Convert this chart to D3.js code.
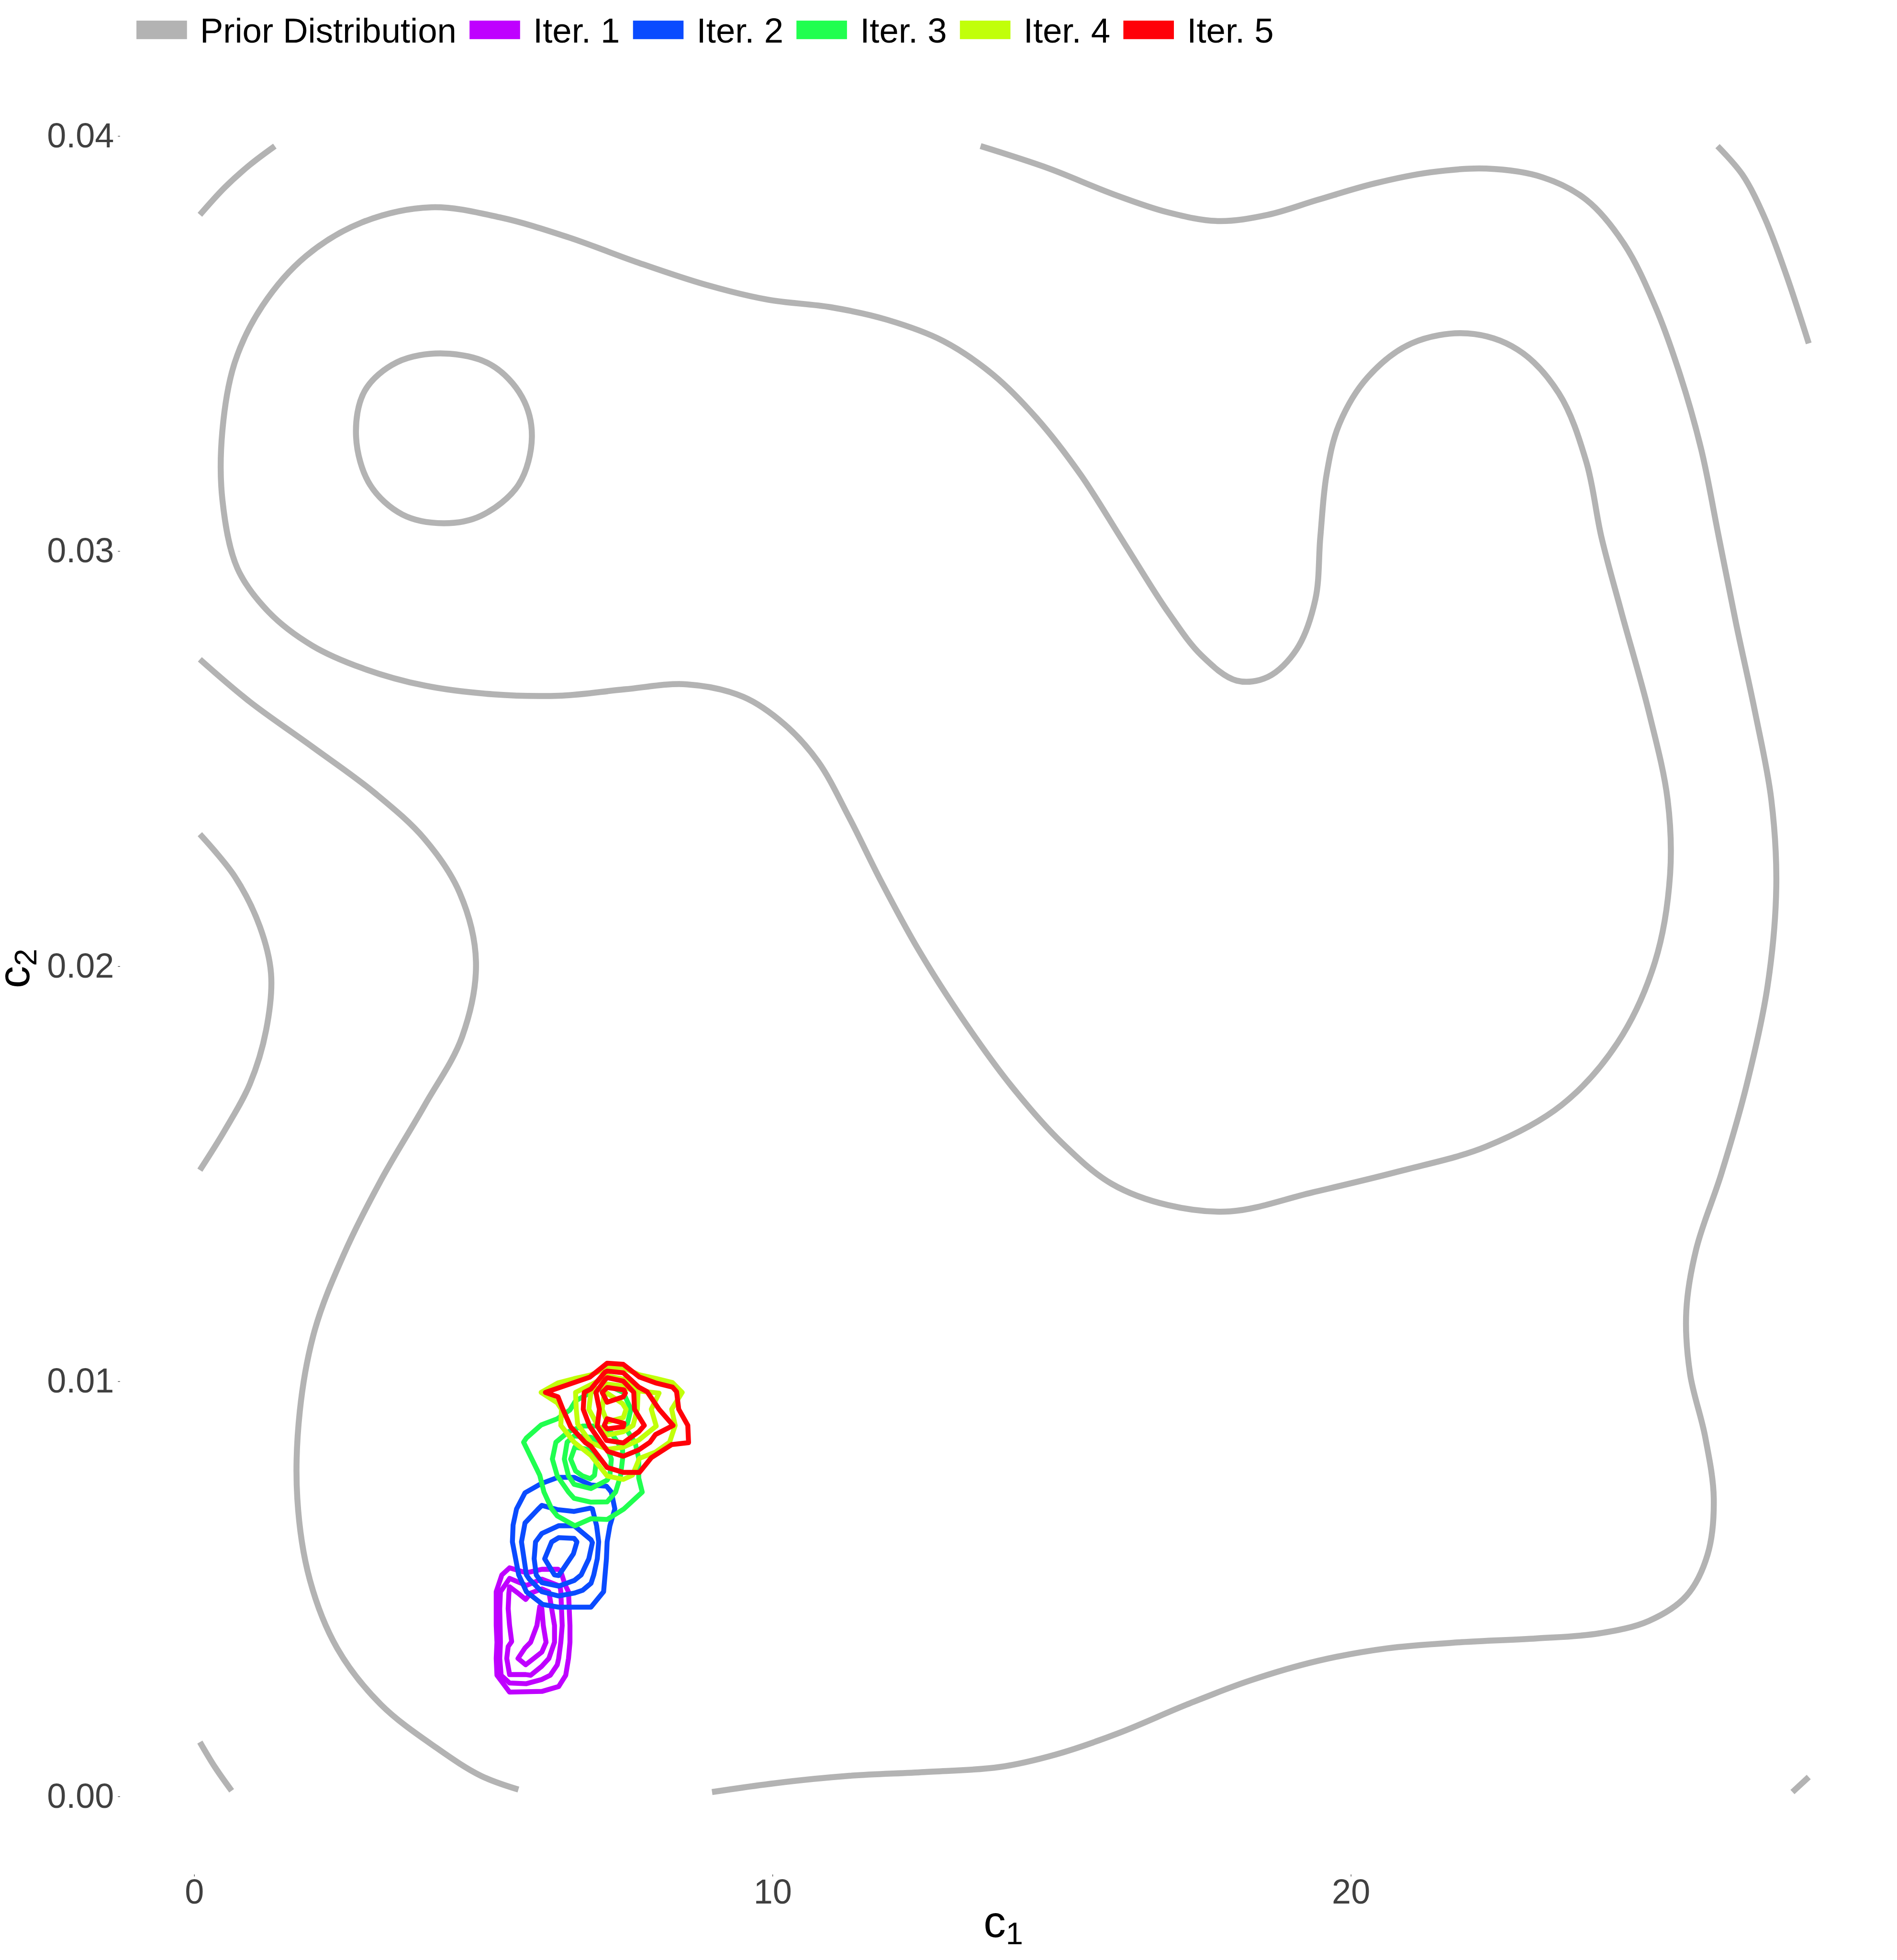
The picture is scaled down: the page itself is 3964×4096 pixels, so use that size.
<!DOCTYPE html>
<html><head><meta charset="utf-8">
<script src="https://cdn.jsdelivr.net/npm/d3@7"></script>
<style>html,body{margin:0;padding:0;background:#fff;} svg{display:block;}</style>
</head><body>
<script>
// ---------- DATA ----------
const xTickValues = [0, 10, 20];
const xTickLabels = ["0", "10", "20"];
const yTickValues = [0, 0.01, 0.02, 0.03, 0.04];
const yTickLabels = ["0.00", "0.01", "0.02", "0.03", "0.04"];
const seriesNames = ["Prior Distribution", "Iter. 1", "Iter. 2", "Iter. 3", "Iter. 4", "Iter. 5"];

// Prior distribution contours [c1, c2]
const priorCircle = [[4.31,0.03476],[5.13,0.03449],[5.67,0.03371],[5.84,0.03275],[5.61,0.03160],[4.96,0.03085],[4.31,0.03067],[3.60,0.03088],[3.04,0.03160],[2.80,0.03275],[2.95,0.03386],[3.51,0.03455]];
const priorBlob = [[4.095,0.038281],[5.283,0.038040],[6.471,0.037559],[7.659,0.036957],[8.847,0.036415],[9.927,0.036054],[11.006,0.035874],[11.978,0.035573],[12.950,0.035062],[13.814,0.034249],[14.570,0.033197],[15.326,0.031843],[16.082,0.030188],[16.838,0.028534],[17.421,0.027481],[18.026,0.026879],[18.566,0.026969],[19.063,0.027631],[19.387,0.028835],[19.473,0.030339],[19.581,0.031843],[19.797,0.033046],[20.294,0.034189],[21.050,0.035002],[22.022,0.035242],[22.886,0.034851],[23.598,0.033798],[24.073,0.032144],[24.333,0.030339],[24.678,0.028534],[25.153,0.026127],[25.477,0.024021],[25.521,0.022216],[25.261,0.020110],[24.613,0.018155],[23.642,0.016651],[22.346,0.015658],[20.834,0.015057],[19.322,0.014545],[17.918,0.014094],[16.838,0.014244],[15.866,0.014756],[15.002,0.015748],[14.138,0.017102],[13.274,0.018757],[12.518,0.020411],[11.870,0.022066],[11.330,0.023570],[10.791,0.024924],[10.207,0.025826],[9.495,0.026488],[8.523,0.026789],[7.443,0.026669],[6.363,0.026518],[5.175,0.026548],[3.987,0.026759],[2.907,0.027180],[2.043,0.027721],[1.287,0.028534],[0.747,0.029587],[0.488,0.031241],[0.488,0.032896],[0.704,0.034550],[1.179,0.035904],[1.935,0.037107],[2.907,0.037920]];
const priorOuterA = [[8.955,0.000105],[10.035,0.000316],[11.330,0.000496],[12.626,0.000587],[13.922,0.000707],[14.894,0.001008],[15.974,0.001519],[17.162,0.002211],[18.242,0.002783],[19.430,0.003264],[20.618,0.003565],[21.914,0.003715],[23.210,0.003805],[24.289,0.003926],[25.153,0.004227],[25.801,0.004828],[26.168,0.005821],[26.276,0.007175],[26.125,0.008679],[25.866,0.010183],[25.801,0.011687],[25.974,0.013191],[26.406,0.014996],[26.838,0.017102],[27.205,0.019509],[27.357,0.021915],[27.270,0.024021],[26.989,0.026127],[26.665,0.028233],[26.363,0.030339],[26.060,0.032444],[25.693,0.034249],[25.261,0.035904],[24.721,0.037408],[24.073,0.038461],[23.317,0.039003],[22.346,0.039213],[21.374,0.039123],[20.402,0.038852],[19.430,0.038461],[18.566,0.038100],[17.702,0.037950],[16.838,0.038160],[15.866,0.038611],[14.786,0.039213],[13.598,0.039755]];
const priorOuterB = [[0.099,0.027391],[0.963,0.026368],[2.043,0.025285],[3.123,0.024172],[3.987,0.023059],[4.592,0.021765],[4.873,0.020110],[4.635,0.018306],[3.987,0.016651],[3.231,0.014846],[2.583,0.013041],[2.086,0.011236],[1.827,0.009281],[1.784,0.007175],[2.000,0.005219],[2.475,0.003565],[3.231,0.002211],[4.203,0.001158],[4.959,0.000496],[5.607,0.000165]];
const priorArcTopLeft = [[0.099,0.038100],[0.531,0.038762],[0.963,0.039303],[1.395,0.039755]];
const priorArcLeft = [[0.099,0.023179],[0.704,0.022156],[1.136,0.020953],[1.330,0.019810],[1.244,0.018456],[0.963,0.017162],[0.531,0.016049],[0.099,0.015087]];
const priorArcBottomLeft = [[0.099,0.001309],[0.359,0.000707],[0.648,0.000135]];
const priorArcTopRight = [[26.341,0.039755],[26.773,0.039063],[27.162,0.038010],[27.529,0.036656],[27.918,0.035002]];
const priorArcBottomRight = [[27.637,0.000105],[27.918,0.000466]];

// Iteration contours [c1, c2]
const iter1 = [
  [[5.454,0.005505],[5.745,0.005386],[6.012,0.005471],[6.291,0.005471],[6.340,0.005420],[6.413,0.005099],[6.473,0.004930],[6.498,0.004118],[6.498,0.003713],[6.473,0.003324],[6.425,0.002918],[6.303,0.002647],[6.012,0.002529],[5.454,0.002512],[5.236,0.002918],[5.223,0.003324],[5.236,0.003713],[5.223,0.004118],[5.223,0.004930],[5.321,0.005336]],
  [[5.454,0.005251],[5.745,0.005082],[6.012,0.005234],[6.328,0.005065],[6.340,0.004930],[6.364,0.004118],[6.340,0.003713],[6.303,0.003324],[6.279,0.003171],[6.158,0.002918],[6.012,0.002817],[5.745,0.002715],[5.454,0.002732],[5.308,0.002918],[5.284,0.003324],[5.296,0.003713],[5.284,0.004524],[5.296,0.004930],[5.381,0.005099]],
  [[5.454,0.005048],[5.600,0.004896],[5.733,0.004744],[5.818,0.004896],[6.012,0.004998],[6.134,0.004930],[6.182,0.004524],[6.231,0.004118],[6.231,0.003713],[6.134,0.003324],[6.012,0.003138],[5.818,0.002918],[5.733,0.002935],[5.454,0.002935],[5.405,0.003324],[5.430,0.003611],[5.490,0.003730],[5.454,0.004118],[5.430,0.004524],[5.442,0.004896]],
  [[5.976,0.004575],[5.927,0.004118],[5.818,0.003713],[5.721,0.003577],[5.600,0.003324],[5.733,0.003171],[6.012,0.003476],[6.085,0.003713],[6.037,0.004118],[6.012,0.004524]]
];
const iter2 = [
  [[6.291,0.007686],[6.571,0.007686],[6.862,0.007500],[7.129,0.007473],[7.214,0.007331],[7.274,0.006926],[7.189,0.006520],[7.141,0.006131],[7.129,0.005725],[7.104,0.005319],[7.080,0.004931],[6.862,0.004559],[6.303,0.004559],[6.024,0.004626],[5.745,0.004931],[5.612,0.005336],[5.503,0.006131],[5.515,0.006537],[5.575,0.006926],[5.721,0.007314],[6.000,0.007534]],
  [[6.012,0.007010],[6.279,0.006909],[6.571,0.006865],[6.850,0.006943],[6.886,0.006926],[6.959,0.006520],[6.995,0.006131],[6.971,0.005725],[6.910,0.005336],[6.862,0.005133],[6.716,0.004964],[6.571,0.004897],[6.303,0.004829],[6.012,0.004931],[5.794,0.005235],[5.745,0.005336],[5.660,0.006131],[5.721,0.006588],[5.939,0.006909]],
  [[6.012,0.006334],[6.303,0.006520],[6.571,0.006520],[6.862,0.006182],[6.886,0.006114],[6.825,0.005725],[6.692,0.005336],[6.571,0.005201],[6.303,0.005066],[6.012,0.005150],[5.915,0.005336],[5.879,0.005725],[5.903,0.006131]],
  [[6.303,0.006232],[6.571,0.006215],[6.619,0.006131],[6.558,0.005844],[6.303,0.005319],[6.231,0.005336],[6.061,0.005725],[6.182,0.006131]]
];
const iter3 = [
  [[5.697,0.008532],[5.745,0.008633],[6.000,0.008948],[6.279,0.009096],[6.498,0.009309],[6.595,0.009529],[6.862,0.009732],[7.153,0.009901],[7.420,0.009732],[7.553,0.009326],[7.469,0.008853],[7.626,0.008515],[7.687,0.008143],[7.687,0.007670],[7.748,0.007331],[7.432,0.006926],[7.141,0.006672],[6.862,0.006689],[6.583,0.006520],[6.279,0.006757],[6.182,0.006926],[6.049,0.007331],[5.976,0.007737]],
  [[6.255,0.008532],[6.473,0.008785],[6.716,0.008921],[6.959,0.008921],[7.202,0.008785],[7.408,0.008346],[7.408,0.008126],[7.372,0.007720],[7.287,0.007331],[7.141,0.007095],[6.862,0.007088],[6.571,0.007179],[6.473,0.007331],[6.279,0.007720],[6.194,0.008126]],
  [[6.449,0.008532],[6.571,0.008684],[6.862,0.008650],[7.153,0.008346],[7.214,0.008126],[7.189,0.007737],[7.141,0.007619],[6.862,0.007416],[6.571,0.007517],[6.473,0.007720],[6.401,0.008126]],
  [[6.583,0.008413],[6.862,0.008346],[6.959,0.008126],[6.923,0.007737],[6.850,0.007653],[6.716,0.007720],[6.595,0.007839],[6.510,0.008126]]
];
const iter4 = [
  [[6.000,0.009732],[6.291,0.009962],[6.571,0.010063],[6.862,0.010155],[7.141,0.010324],[7.420,0.010324],[7.699,0.010155],[7.978,0.010070],[8.270,0.009969],[8.439,0.009732],[8.257,0.009326],[8.318,0.008937],[8.221,0.008532],[7.978,0.008295],[7.699,0.008143],[7.578,0.007737],[7.420,0.007636],[7.141,0.007720],[6.862,0.008211],[6.571,0.008532],[6.340,0.008937],[6.352,0.009326],[6.279,0.009479]],
  [[6.595,0.009732],[6.862,0.009918],[7.141,0.010131],[7.420,0.010053],[7.699,0.009766],[8.039,0.009715],[7.905,0.009326],[7.990,0.008921],[7.687,0.008582],[7.420,0.008413],[7.153,0.008363],[6.862,0.008515],[6.631,0.008971],[6.607,0.009326]],
  [[6.862,0.009749],[7.141,0.009935],[7.420,0.009884],[7.675,0.009715],[7.663,0.009326],[7.590,0.008937],[7.420,0.008785],[7.141,0.008701],[6.983,0.008921],[6.825,0.009326]],
  [[7.141,0.009715],[7.408,0.009462],[7.469,0.009326],[7.420,0.009124],[7.141,0.009022],[7.056,0.009326],[7.080,0.009597]]
];
const iter5 = [
  [[7.141,0.010435],[7.420,0.010408],[7.699,0.010104],[7.978,0.009962],[8.270,0.009861],[8.342,0.009749],[8.379,0.009326],[8.536,0.008937],[8.549,0.008522],[8.257,0.008474],[7.905,0.008160],[7.699,0.007805],[7.420,0.007805],[7.141,0.007923],[6.862,0.008430],[6.765,0.008522],[6.510,0.008904],[6.376,0.009326],[6.291,0.009624],[6.073,0.009732],[6.838,0.010097]],
  [[7.141,0.010246],[7.420,0.010205],[7.687,0.009861],[7.833,0.009749],[8.039,0.009326],[8.282,0.008937],[7.978,0.008718],[7.881,0.008532],[7.687,0.008346],[7.420,0.008194],[7.153,0.008312],[7.032,0.008532],[6.838,0.008921],[6.728,0.009326],[6.745,0.009732],[6.862,0.009817],[7.104,0.010222]],
  [[7.141,0.010087],[7.420,0.010003],[7.602,0.009732],[7.614,0.009326],[7.784,0.008937],[7.687,0.008785],[7.420,0.008515],[7.129,0.008576],[6.971,0.008921],[7.007,0.009326],[6.947,0.009732],[7.104,0.010036]],
  [[7.141,0.009850],[7.432,0.009793],[7.457,0.009715],[7.420,0.009624],[7.141,0.009495],[7.056,0.009732]],
  [[7.141,0.009096],[7.432,0.008988],[7.420,0.008904],[7.141,0.008853],[7.092,0.008937]]
];

// ---------- STYLE ----------
const priorColor = "#B3B3B3";
const iterColors = ["#BF00FF", "#0A4BFF", "#20FF4F", "#C1FF0A", "#FF0008"];
const legendColors = [priorColor].concat(iterColors);
const FONT = "'Liberation Sans', Arial, Helvetica, sans-serif";

const W = 3964, H = 4096;
const svg = d3.select("body").append("svg")
  .attr("width", W).attr("height", H)
  .style("font-family", FONT);
svg.append("rect").attr("width", W).attr("height", H).attr("fill", "#fff");

const x = d3.scaleLinear().domain([-1.29, 29.35]).range([249.8, 3952.6]);
const y = d3.scaleLinear().domain([-0.00188, 0.04173]).range([3917.2, 134.0]);

const smoothOpen = d3.line().x(d => x(d[0])).y(d => y(d[1])).curve(d3.curveCatmullRom.alpha(0.5));
const smoothClosed = d3.line().x(d => x(d[0])).y(d => y(d[1])).curve(d3.curveCatmullRomClosed.alpha(0.5));
const polyClosed = d3.line().x(d => x(d[0])).y(d => y(d[1])).curve(d3.curveLinearClosed);

// prior contours
const gPrior = svg.append("g").attr("fill", "none").attr("stroke", priorColor)
  .attr("stroke-width", 12.5).attr("stroke-linejoin", "round").attr("stroke-linecap", "butt");
gPrior.selectAll("path.closed").data([priorCircle, priorBlob]).enter().append("path")
  .attr("class", "closed").attr("d", smoothClosed);
gPrior.selectAll("path.open").data([priorOuterA, priorOuterB, priorArcTopLeft, priorArcLeft, priorArcBottomLeft, priorArcTopRight, priorArcBottomRight]).enter().append("path")
  .attr("class", "open").attr("d", smoothOpen);

// iteration contours
[iter1, iter2, iter3, iter4, iter5].forEach((rings, i) => {
  svg.append("g").attr("fill", "none").attr("stroke", iterColors[i])
    .attr("stroke-width", 10.3).attr("stroke-linejoin", "round")
    .selectAll("path").data(rings).enter().append("path").attr("d", polyClosed);
});

// axes
const yAxis = d3.axisLeft(y).tickValues(yTickValues).tickFormat((d, i) => yTickLabels[i]).tickSize(4.4).tickPadding(8);
const gy = svg.append("g").attr("transform", "translate(250.8,0)").call(yAxis);
const xAxis = d3.axisBottom(x).tickValues(xTickValues).tickFormat((d, i) => xTickLabels[i]).tickSize(4.4).tickPadding(5.5);
const gx = svg.append("g").attr("transform", "translate(0,3917.2)").call(xAxis);
[gx, gy].forEach(g => {
  g.select(".domain").remove();
  g.selectAll(".tick line").attr("stroke", "#333333").attr("stroke-width", 1.2);
  g.selectAll(".tick text").attr("fill", "#404040").style("font-size", "72px").style("font-family", FONT);
});

// axis titles
const tx = svg.append("text").attr("x", 2096.6).attr("y", 4048).attr("text-anchor", "middle")
  .style("font-size", "93px").attr("fill", "#000");
tx.append("tspan").text("c");
tx.append("tspan").attr("dy", 15).style("font-size", "65px").text("1");

const ty = svg.append("text").attr("transform", "translate(61,2024) rotate(-90)").attr("text-anchor", "middle")
  .style("font-size", "93px").attr("fill", "#000");
ty.append("tspan").text("c");
ty.append("tspan").attr("dy", 15).style("font-size", "65px").text("2");

// legend
const gLeg = svg.append("g");
let lx = 285.1;
seriesNames.forEach((name, i) => {
  gLeg.append("rect").attr("x", lx).attr("y", 43.1).attr("width", 105.6).attr("height", 38.7).attr("fill", legendColors[i]);
  const t = gLeg.append("text").attr("x", lx + 105.6 + 27.3).attr("y", 88.6)
    .style("font-size", "72.5px").attr("fill", "#000").text(name);
  const w = t.node().getComputedTextLength();
  lx = lx + 105.6 + 27.3 + w + 27.3;
});
</script>
</body></html>
